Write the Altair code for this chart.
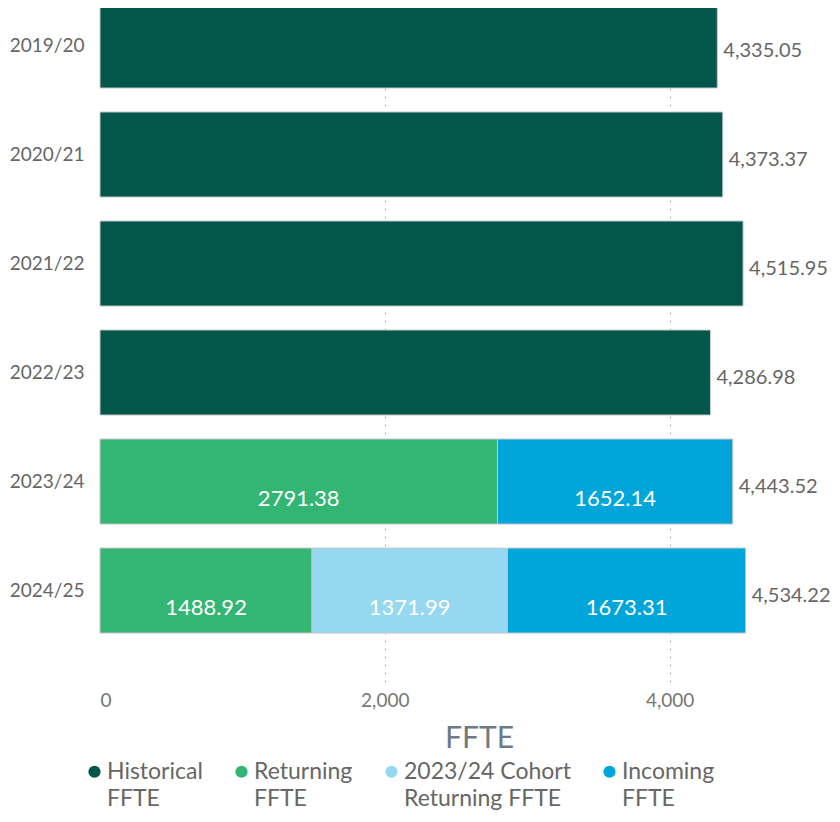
import altair as alt
import pandas as pd

years = ["2019/20", "2020/21", "2021/22", "2022/23", "2023/24", "2024/25"]
categories = ["Historical FFTE", "Returning FFTE", "2023/24 Cohort Returning FFTE", "Incoming FFTE"]
colors = ["#02574A", "#33B574", "#96D8F0", "#00A6DA"]

historical = [4335.05, 4373.37, 4515.95, 4286.98, None, None]
returning = [None, None, None, None, 2791.38, 1488.92]
cohort = [None, None, None, None, None, 1371.99]
incoming = [None, None, None, None, 1652.14, 1673.31]

series = [historical, returning, cohort, incoming]
rows = []
for ci, (cat, vals) in enumerate(zip(categories, series)):
    for y, v in zip(years, vals):
        if v is not None:
            rows.append({"year": y, "category": cat, "value": v, "ord": ci})
df = pd.DataFrame(rows)

FONT = "Lato"
base = alt.Chart(df)

y_enc = alt.Y("year:N", sort=years,
              scale=alt.Scale(paddingInner=0.22, paddingOuter=0.2245, align=0, round=False),
              axis=alt.Axis(title=None, domain=False, ticks=False, labelFontSize=19,
                            labelColor="#666666", labelPadding=16, labelFont=FONT))

bars = base.mark_bar(stroke="#c8c8c8", strokeWidth=1).encode(
    y=y_enc,
    x=alt.X("value:Q", stack="zero",
            scale=alt.Scale(domain=[0, 5000], nice=False),
            axis=alt.Axis(values=[0, 2000, 4000], format=",.0f", grid=True,
                          gridDash=[2, 6], gridWidth=1,
                          gridColor={"condition": {"test": "datum.value === 0", "value": "transparent"}, "value": "#aaaaaa"},
                          domain=False, ticks=False, labelFontSize=19, labelColor="#777777",
                          labelPadding=9, labelFont=FONT,
                          title="FFTE", titleFontSize=30, titleColor="#6E7B87",
                          titleFontWeight="normal", titleFont=FONT, titleX=379, titleY=65,
                          titleBaseline="alphabetic", titleAlign="center")),
    color=alt.Color("category:N", scale=alt.Scale(domain=categories, range=colors),
                    legend=alt.Legend(title=None, orient="none", legendX=-17, legendY=757,
                                      direction="horizontal", columns=4, symbolType="circle",
                                      symbolSize=150, symbolStrokeWidth=0, symbolOpacity=1,
                                      labelFontSize=23, labelColor="#666666", labelFont=FONT,
                                      labelLimit=300, labelBaseline="middle", columnPadding=27,
                                      labelOffset=1,
                                      labelExpr="datum.label == '2023/24 Cohort Returning FFTE' ? ['2023/24 Cohort', 'Returning FFTE'] : split(datum.label, ' ')")),
    order=alt.Order("ord:Q"),
)

seg = base.transform_stack(
    stack="value", as_=["x0", "x1"], groupby=["year"], sort=[alt.SortField("ord")]
).transform_filter(
    "datum.category != 'Historical FFTE'"
).transform_calculate(
    mid="(datum.x0 + datum.x1) / 2", lab="format(datum.value, '.2f')"
).mark_text(color="white", fontSize=22, dy=17, font=FONT).encode(
    x="mid:Q", y=alt.Y("year:N", sort=years), text="lab:N"
)

tot = base.transform_aggregate(
    total="sum(value)", groupby=["year"]
).transform_calculate(
    lab="format(datum.total, ',.2f')"
).mark_text(align="left", dx=6, dy=5, fontSize=20, color="#666666", font=FONT).encode(
    x="total:Q", y=alt.Y("year:N", sort=years), text="lab:N"
)

chart = alt.layer(bars, seg, tot).properties(
    width=712, height=679,
    autosize=alt.AutoSizeParams(type="none"),
    padding={"left": 92, "top": -5, "right": 20, "bottom": 132},
).configure(style={"guide-label": {"lineHeight": 27}}).configure_view(stroke=None)

chart.save("out.html", embed_options={"renderer": "svg", "actions": False})
